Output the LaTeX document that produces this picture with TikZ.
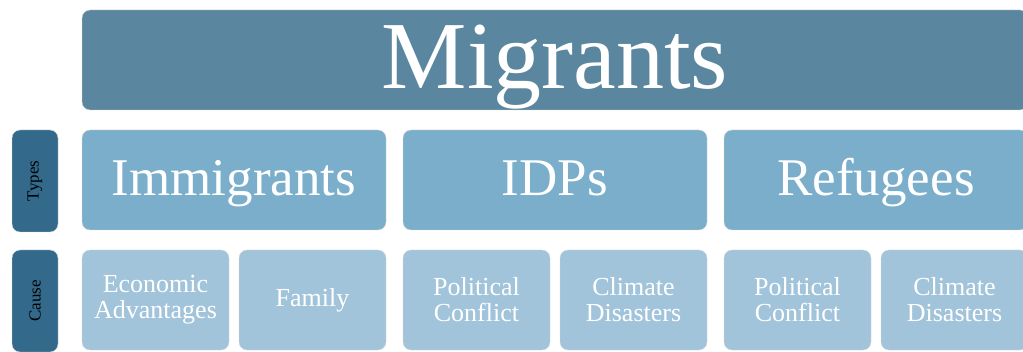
\documentclass[tikz,border=0pt]{standalone}
\usepackage{fontspec}
\setmainfont{Liberation Serif}
\usepackage{tikz}
\usetikzlibrary{positioning}

\definecolor{migblue}{HTML}{5A879F}
\definecolor{typeblue}{HTML}{7AAECB}
\definecolor{causeblue}{HTML}{A2C4DA}
\definecolor{labelblue}{HTML}{33698A}

\tikzset{
  tile/.style={rectangle, rounded corners=8pt, draw=white!85!black, line width=0.4pt, text=white, inner sep=0pt, align=center},
  topbox/.style={tile, fill=migblue, minimum width=946pt, minimum height=100pt, text height=64pt, text depth=6pt, font=\fontsize{96}{96}\selectfont},
  typebox/.style={tile, fill=typeblue, minimum width=304pt, minimum height=100pt, text height=38pt, text depth=6pt, font=\fontsize{53}{53}\selectfont},
  causebox/.style={tile, fill=causeblue, minimum width=147pt, minimum height=100pt, font=\fontsize{26}{26}\selectfont},
  sidelabel/.style={tile, fill=labelblue, text=black, rotate=90, minimum width=102pt, minimum height=46pt, font=\fontsize{17}{17}\selectfont}
}

\begin{document}
\begin{tikzpicture}[x=1pt,y=1pt]
\useasboundingbox (0,0) rectangle (1023,351);
\clip (0,0) rectangle (1023,351);
\node[topbox] (migrants) at (555,291) {Migrants};
% row labels
\node[sidelabel] (types) at (35,170) {Types};
\node[sidelabel] (cause) at (35,50) {Cause};
% types row
\node[typebox] (immigrants) at (234,171) {Immigrants};
\node[typebox] (idps) at (555,171) {IDPs};
\node[typebox] (refugees) at (876,171) {Refugees};
% cause row
\foreach \x/\n/\t in {155.5/econ/Economic\\Advantages, 312.5/family/Family, 476.5/polA/Political\\Conflict, 633.5/climA/Climate\\Disasters, 797.5/polB/Political\\Conflict, 954.5/climB/Climate\\Disasters} { \node[causebox] (\n) at (\x,51) {\t}; }
\end{tikzpicture}
\end{document}
